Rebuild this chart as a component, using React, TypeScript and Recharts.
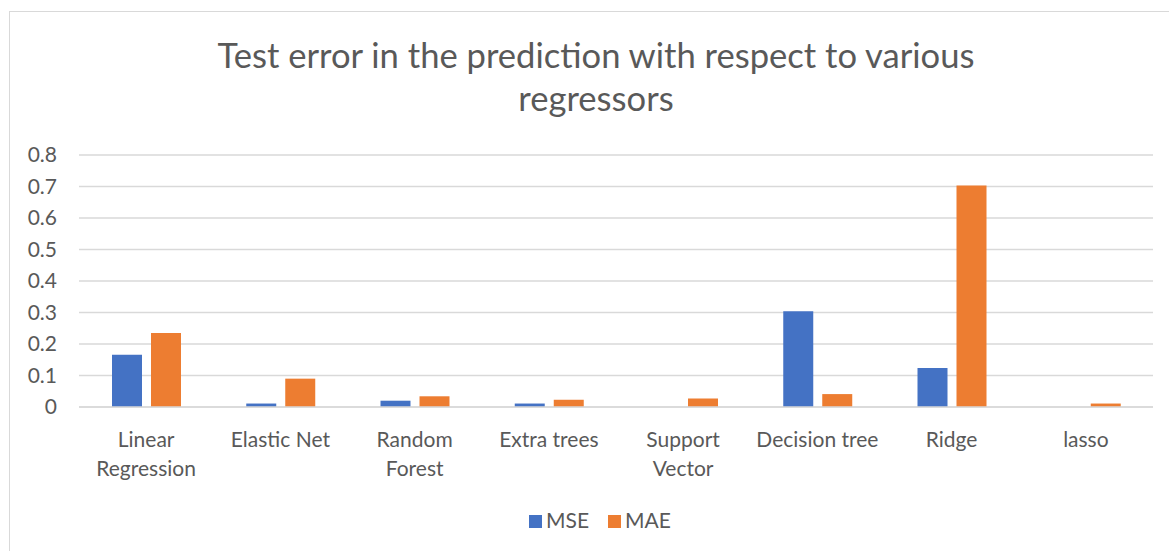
import { Bar, BarChart, CartesianGrid, XAxis, YAxis } from "recharts"

const categories = [
  "Linear\nRegression",
  "Elastic Net",
  "Random\nForest",
  "Extra trees",
  "Support\nVector",
  "Decision tree",
  "Ridge",
  "lasso",
]
const mse = [0.166, 0.011, 0.02, 0.011, 0, 0.304, 0.124, 0]
const mae = [0.235, 0.09, 0.034, 0.023, 0.027, 0.041, 0.703, 0.011]
const yTicks = [0, 0.1, 0.2, 0.3, 0.4, 0.5, 0.6, 0.7, 0.8]
const titleLines = ["Test error in the prediction with respect to various", "regressors"]

const data = categories.map((name, i) => ({ name, MSE: mse[i], MAE: mae[i] }))

const FONT = "Lato, 'Open Sans', sans-serif"
const TEXT = "#595959"
const GRID = "#d9d9d9"

function CategoryTick({ x, y, payload }: any) {
  const lines = String(payload.value).split("\n")
  return (
    <text x={x} y={y} textAnchor="middle" fill={TEXT} fontFamily={FONT} fontSize={21}>
      {lines.map((l, i) => (
        <tspan key={i} x={x} y={y + 40 + i * 28.5}>
          {l}
        </tspan>
      ))}
    </text>
  )
}

export default function App() {
  return (
    <div
      style={{
        position: "absolute",
        left: 0,
        top: 0,
        width: 1169,
        height: 551,
        overflow: "hidden",
        background: "#fff",
      }}
    >
      <div
        style={{
          position: "absolute",
          left: 9,
          top: 11,
          width: 1200,
          height: 600,
          border: `1px solid ${GRID}`,
        }}
      />
      <div style={{ position: "absolute", left: 0, top: 0 }}>
        <BarChart
          width={1169}
          height={551}
          data={data}
          margin={{ top: 155, right: 16, left: 0, bottom: 84 }}
          barSize={30}
          barGap={9}
        >
          <CartesianGrid vertical={false} stroke={GRID} strokeWidth={1.3} />
          <XAxis
            dataKey="name"
            height={60}
            axisLine={{ stroke: GRID, strokeWidth: 1.3 }}
            tickLine={false}
            tickSize={0}
            tickMargin={0}
            interval={0}
            tick={<CategoryTick />}
          />
          <YAxis
            width={79}
            domain={[0, 0.8]}
            ticks={yTicks}
            axisLine={false}
            tickLine={false}
            tickSize={0}
            tickMargin={22}
            tick={{ fill: TEXT, fontFamily: FONT, fontSize: 21 }}
          />
          <Bar dataKey="MSE" fill="#4472C4" isAnimationActive={false} />
          <Bar dataKey="MAE" fill="#ED7D31" isAnimationActive={false} />
        </BarChart>
      </div>
      <svg
        width={1169}
        height={551}
        style={{ position: "absolute", left: 0, top: 0, pointerEvents: "none" }}
      >
        {titleLines.map((t, i) => (
          <text
            key={t}
            x={596}
            y={67.5 + i * 43.5}
            textAnchor="middle"
            fill={TEXT}
            fontFamily={FONT}
            fontSize={34.6}
          >
            {t}
          </text>
        ))}
        <rect x={529} y={515} width={13} height={13} fill="#4472C4" />
        <text x={546} y={528} fill={TEXT} fontFamily={FONT} fontSize={21}>
          MSE
        </text>
        <rect x={608} y={515} width={13} height={13} fill="#ED7D31" />
        <text x={625} y={528} fill={TEXT} fontFamily={FONT} fontSize={21}>
          MAE
        </text>
      </svg>
    </div>
  )
}
